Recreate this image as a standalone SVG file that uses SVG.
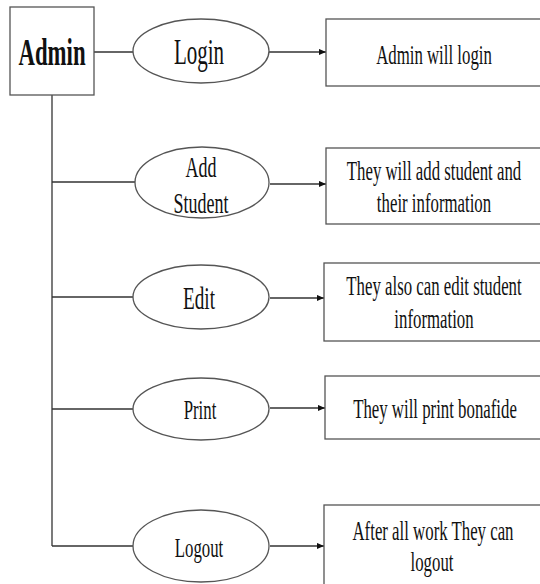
<svg xmlns="http://www.w3.org/2000/svg" width="540" height="584" viewBox="0 0 540 584">
<style>
  .shape { fill: #ffffff; stroke: #555555; stroke-width: 1.3; }
  .conn { stroke: #333333; stroke-width: 1.3; fill: none; }
  text { font-family: "Liberation Serif", "Times New Roman", serif; fill: #111111; text-anchor: middle; }
  .bx { font-size: 28px; }
  .hd { font-size: 38px; font-weight: bold; }
</style>
<defs>
  <marker id="arr" viewBox="0 0 8 8" refX="8" refY="4" markerWidth="7" markerHeight="7" markerUnits="userSpaceOnUse" orient="auto">
    <path d="M0,0.5 L8,4 L0,7.5 Z" fill="#111111"/>
  </marker>
</defs>
<rect width="540" height="584" fill="#ffffff"/>

<g id="connectors">
  <line class="conn" x1="94" y1="52" x2="133" y2="52"/>
  <line class="conn" x1="52" y1="95" x2="52" y2="546"/>
  <line class="conn" x1="52" y1="182" x2="135" y2="182"/>
  <line class="conn" x1="52" y1="297" x2="133" y2="297"/>
  <line class="conn" x1="52" y1="409" x2="133" y2="409"/>
  <line class="conn" x1="52" y1="546" x2="133" y2="546"/>
  <line class="conn" x1="268" y1="52" x2="326" y2="52" marker-end="url(#arr)"/>
  <line class="conn" x1="270" y1="184" x2="326" y2="184" marker-end="url(#arr)"/>
  <line class="conn" x1="270" y1="298" x2="324" y2="298" marker-end="url(#arr)"/>
  <line class="conn" x1="270" y1="408" x2="325" y2="408" marker-end="url(#arr)"/>
  <line class="conn" x1="270" y1="546" x2="324" y2="546" marker-end="url(#arr)"/>
</g>

<g id="admin">
  <rect class="shape" x="10" y="7" width="84" height="88"/>
  <text class="hd" transform="translate(52,65) scale(0.6,1)">Admin</text>
</g>

<g id="login">
  <ellipse class="shape" cx="201" cy="51" rx="68" ry="32"/>
  <text font-size="35" transform="translate(199,64) scale(0.6,1)">Login</text>
</g>
<g id="add-student">
  <ellipse class="shape" cx="202" cy="182.5" rx="67" ry="35.5"/>
  <text font-size="30" transform="translate(201,177) scale(0.6,1)">Add</text>
  <text font-size="30" transform="translate(201,213) scale(0.6,1)">Student</text>
</g>
<g id="edit">
  <ellipse class="shape" cx="201" cy="297" rx="68" ry="32"/>
  <text font-size="32" transform="translate(199,309) scale(0.6,1)">Edit</text>
</g>
<g id="print">
  <ellipse class="shape" cx="201" cy="409" rx="68" ry="31"/>
  <text font-size="28" transform="translate(200,419) scale(0.6,1)">Print</text>
</g>
<g id="logout">
  <ellipse class="shape" cx="201" cy="546" rx="68" ry="36"/>
  <text font-size="28" transform="translate(199,557) scale(0.6,1)">Logout</text>
</g>

<g id="login-desc">
  <rect class="shape" x="326" y="19" width="215" height="67"/>
  <text class="bx" transform="translate(434,64) scale(0.6,1)">Admin will login</text>
</g>
<g id="add-desc">
  <rect class="shape" x="326" y="148" width="215" height="76"/>
  <text class="bx" transform="translate(434,180) scale(0.6,1)">They will add student and</text>
  <text class="bx" transform="translate(434,212) scale(0.6,1)">their information</text>
</g>
<g id="edit-desc">
  <rect class="shape" x="324" y="263" width="217" height="78"/>
  <text class="bx" transform="translate(434,295) scale(0.6,1)">They also can edit student</text>
  <text class="bx" transform="translate(434,328) scale(0.6,1)">information</text>
</g>
<g id="print-desc">
  <rect class="shape" x="325" y="376" width="216" height="63"/>
  <text class="bx" transform="translate(435,418) scale(0.6,1)">They will print bonafide</text>
</g>
<g id="logout-desc">
  <rect class="shape" x="324" y="505" width="217" height="85"/>
  <text class="bx" transform="translate(433,540) scale(0.6,1)">After all work They can</text>
  <text class="bx" transform="translate(432,571) scale(0.6,1)">logout</text>
</g>
</svg>
